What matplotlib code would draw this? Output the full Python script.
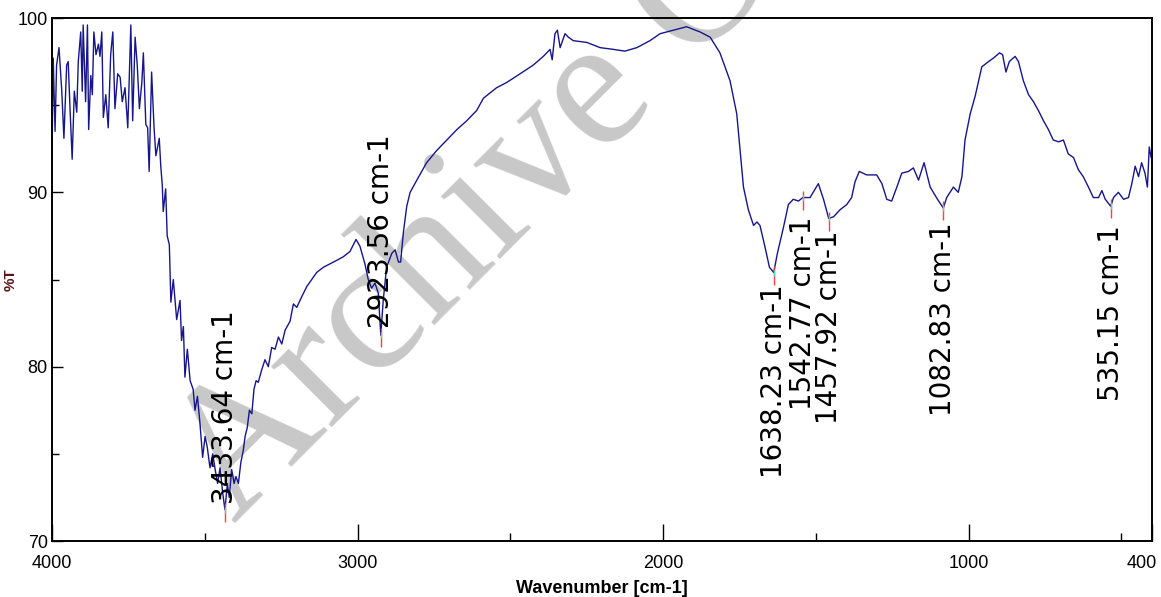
import numpy as np
import matplotlib
matplotlib.use("Agg")
import matplotlib.pyplot as plt
import matplotlib.transforms as mtransforms
from matplotlib.ticker import MultipleLocator

# spectrum (wavenumber cm-1, %T)
wavenumber = [4000, 3996, 3990, 3985, 3977, 3968, 3961, 3952, 3947, 3941, 3934, 3927, 3919, 3914,
              3906, 3901, 3898, 3890, 3884, 3880, 3873, 3868, 3863, 3856, 3848, 3843, 3837, 3832,
              3824, 3816, 3808, 3801, 3794, 3785, 3777, 3770, 3761, 3752, 3742, 3736, 3728, 3721,
              3714, 3706, 3701, 3693, 3687, 3682, 3674, 3666, 3660, 3649, 3644, 3639, 3636, 3628,
              3623, 3616, 3611, 3603, 3592, 3581, 3576, 3570, 3565, 3557, 3548, 3538, 3532, 3524,
              3516, 3507, 3499, 3492, 3483, 3474, 3466, 3458, 3450, 3441, 3434, 3426, 3420, 3412,
              3404, 3398, 3390, 3382, 3374, 3368, 3361, 3354, 3346, 3339, 3332, 3325, 3314, 3303,
              3292, 3281, 3270, 3259, 3248, 3237, 3221, 3210, 3199, 3183, 3166, 3150, 3134, 3112,
              3090, 3068, 3047, 3025, 3005, 2992, 2976, 2965, 2954, 2943, 2932, 2924, 2916, 2905,
              2888, 2877, 2866, 2859, 2850, 2839, 2828, 2806, 2774, 2741, 2708, 2675, 2643, 2610,
              2588, 2545, 2512, 2468, 2425, 2392, 2370, 2363, 2354, 2346, 2337, 2329, 2321, 2310,
              2294, 2250, 2206, 2163, 2125, 2086, 2043, 2010, 1966, 1923, 1879, 1846, 1814, 1781,
              1759, 1748, 1737, 1721, 1704, 1693, 1683, 1667, 1652, 1638, 1626, 1606, 1590, 1574,
              1557, 1543, 1519, 1492, 1475, 1458, 1442, 1421, 1399, 1383, 1372, 1358, 1334, 1301,
              1284, 1268, 1252, 1235, 1219, 1197, 1181, 1164, 1146, 1126, 1102, 1083, 1072, 1050,
              1034, 1022, 1012, 995, 979, 957, 935, 919, 899, 889, 878, 867, 848, 837, 821, 804,
              788, 772, 755, 739, 723, 706, 690, 674, 657, 641, 625, 608, 592, 575, 564, 553, 535,
              526, 510, 493, 477, 466, 455, 444, 434, 423, 415, 409, 403, 400]
transmittance = [92.0, 97.7, 93.5, 97.3, 98.3, 95.8, 93.1, 97.3, 97.5, 94.8, 91.9, 95.8, 94.6, 97.5,
                 99.2, 95.8, 99.6, 95.2, 99.6, 93.6, 96.7, 95.6, 99.2, 97.9, 98.5, 97.8, 99.2, 94.3,
                 95.6, 93.7, 97.9, 99.2, 94.8, 96.8, 96.6, 95.2, 96.0, 93.7, 99.6, 94.1, 98.9, 97.3,
                 94.8, 96.3, 98.0, 93.9, 93.7, 91.2, 96.9, 93.7, 92.1, 93.1, 91.5, 90.4, 88.9, 90.2,
                 87.5, 87.0, 83.7, 85.0, 82.7, 83.8, 81.5, 82.3, 79.4, 81.0, 79.2, 78.7, 77.5, 78.3,
                 76.8, 74.8, 76.0, 75.4, 74.2, 75.0, 74.1, 73.3, 74.2, 72.7, 71.8, 73.3, 72.5, 74.1,
                 73.3, 73.7, 73.3, 74.5, 75.2, 76.0, 76.5, 77.5, 77.3, 78.7, 79.2, 79.1, 79.8, 80.4,
                 80.0, 81.1, 81.0, 81.7, 81.3, 82.1, 82.6, 83.6, 83.4, 84.0, 84.6, 85.0, 85.4, 85.7,
                 85.9, 86.1, 86.3, 86.6, 87.3, 86.9, 85.9, 85.0, 84.5, 84.8, 84.2, 81.8, 83.8, 85.7,
                 86.5, 86.7, 86.0, 86.0, 87.7, 89.2, 90.0, 90.7, 91.7, 92.4, 93.0, 93.6, 94.1, 94.7,
                 95.4, 96.0, 96.3, 96.8, 97.3, 97.8, 98.2, 97.6, 99.1, 99.3, 98.3, 98.7, 99.1, 98.9,
                 98.7, 98.6, 98.3, 98.2, 98.1, 98.3, 98.7, 99.1, 99.3, 99.5, 99.2, 98.9, 98.0, 96.4,
                 94.5, 92.4, 90.3, 89.0, 88.1, 88.3, 88.1, 86.9, 85.7, 85.4, 86.5, 88.0, 89.3, 89.6,
                 89.5, 89.7, 89.7, 90.5, 89.6, 88.5, 88.6, 89.0, 89.3, 89.7, 90.6, 91.2, 91.0, 91.0,
                 90.5, 89.6, 89.5, 90.3, 91.1, 91.2, 91.4, 90.7, 91.7, 90.3, 89.6, 89.1, 89.7, 90.3,
                 90.0, 90.9, 93.0, 94.5, 95.5, 97.2, 97.5, 97.7, 98.0, 97.9, 96.9, 97.5, 97.8, 97.5,
                 96.4, 95.6, 95.2, 94.7, 94.1, 93.6, 93.0, 92.9, 93.0, 92.2, 92.0, 91.3, 90.9, 90.3,
                 89.7, 89.7, 90.1, 89.6, 89.2, 89.7, 90.0, 89.6, 89.7, 90.5, 91.5, 90.9, 91.7, 91.1,
                 90.3, 92.6, 92.0, 92.5]

peak_pos = [3433.64, 2923.56, 1638.23, 1542.77, 1457.92, 1082.83, 535.15]
peak_val = [71.8, 81.8, 85.4, 89.7, 88.5, 89.1, 89.2]
label_y = [72.1, 82.2, 84.7, 88.6, 87.8, 88.3, 88.1]
label_va = ["bottom", "bottom", "top", "top", "top", "top", "top"]

narrow = ["Liberation Sans Narrow", "Liberation Sans", "DejaVu Sans"]

fig = plt.figure(figsize=(11.61, 5.97), dpi=100)
ax = fig.add_axes([52 / 1161, 1 - 541 / 597, 1100 / 1161, 523 / 597])

# watermark behind the spectrum
ax.text(235 / 1161, 1 - 525 / 597, "Archive Of SID", transform=fig.transFigure,
        rotation=45, rotation_mode="anchor", ha="left", va="baseline",
        fontsize=134, family=["Liberation Serif", "DejaVu Serif"], color="#c8c8c8",
        clip_on=False, zorder=0.5)

ax.plot(wavenumber, transmittance, color="#16168a", lw=1.0, zorder=2)

for p, v, ly, va in zip(peak_pos, peak_val, label_y, label_va):
    ax.vlines(p, v - 0.7, v + 0.4, color="#ff4040", lw=1.0, zorder=3)
    ax.plot([p], [v], marker="|", ms=4, color="#40e0c0", zorder=3)
    ax.text(p, ly, "%.2f cm-1" % p, rotation=90, ha="center", va=va,
            fontsize=20, family="DejaVu Sans", color="black", zorder=4)

ax.set_xlim(4000, 400)
ax.set_ylim(70, 100)
ax.set_xticks([4000, 3000, 2000, 1000, 400])
ax.xaxis.set_minor_locator(MultipleLocator(500))
ax.yaxis.set_major_locator(MultipleLocator(10))
ax.yaxis.set_minor_locator(MultipleLocator(5))
ax.tick_params(axis="x", which="major", direction="in", length=12, width=1, pad=10)
ax.tick_params(axis="x", which="minor", direction="in", length=6, width=1)
ax.tick_params(axis="y", which="major", direction="in", length=8, width=1, pad=3)
ax.tick_params(axis="y", which="minor", direction="in", length=5, width=1)
for lab in ax.get_xticklabels() + ax.get_yticklabels():
    lab.set_family(narrow)
    lab.set_fontsize(13)
# last x label sits at the right edge, nudge it inside
last = ax.get_xticklabels()[-1]
last.set_transform(last.get_transform() + mtransforms.ScaledTranslation(-10 / 100, 0, fig.dpi_scale_trans))
for s in ax.spines.values():
    s.set_linewidth(1.4)

ax.set_xlabel("Wavenumber [cm-1]", family=narrow, fontsize=13, fontweight="bold", labelpad=6)
ax.set_ylabel("%T", family=narrow, fontsize=11, fontweight="bold", color="#5c1414")
ax.yaxis.set_label_coords(-0.031, 0.5)

fig.savefig("out.png", dpi=100)
